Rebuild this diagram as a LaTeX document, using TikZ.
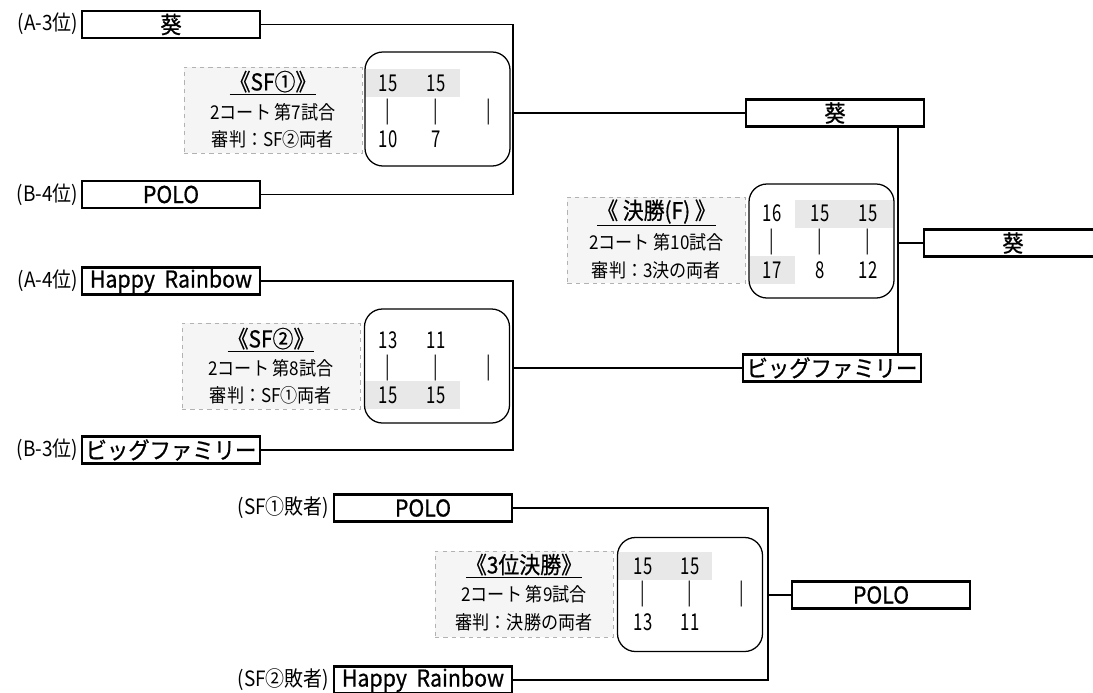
\documentclass[tikz,border=0pt]{standalone}
\usepackage{fontspec}
\setmainfont{Noto Sans CJK JP}
\newfontfamily\teamfont[FakeBold=0.7,FakeStretch=0.92]{Noto Sans CJK JP}
\newfontfamily\infofont[FakeStretch=0.9]{Noto Sans CJK JP}
\newfontfamily\titlefont[FakeBold=0.6,FakeStretch=0.9]{Noto Sans CJK JP}
\newfontfamily\scorefont[FakeStretch=0.72]{Noto Sans CJK JP}

\tikzset{
  team/.style={draw, line width=1.6pt, minimum width=4.45cm, minimum height=0.675cm,
    inner sep=0pt, font=\teamfont\fontsize{16.5}{16.5}\selectfont},
  seed/.style={anchor=east, inner sep=1pt, font=\infofont\fontsize{15}{15}\selectfont},
  infobox/.style={draw=gray!60, dashed, fill=gray!8, minimum width=4.45cm,
    minimum height=2.15cm, inner sep=0pt},
  infotext/.style={inner sep=0pt, font=\infofont\fontsize{13.5}{13.5}\selectfont},
  infotitle/.style={inner sep=0pt, font=\titlefont\fontsize{16.5}{16.5}\selectfont},
  scorebox/.style={draw, line width=0.9pt, rounded corners=0.45cm,
    minimum width=3.625cm, minimum height=2.85cm},
  pts/.style={inner sep=0pt, font=\scorefont\fontsize{16.5}{16.5}\selectfont},
  won/.style={fill=gray!18},
  link/.style={line width=0.8pt}
}

\begin{document}
\begin{tikzpicture}[x=0.025cm, y=-0.025cm]
  \useasboundingbox (0,0) rectangle (1093,692);
  \clip (0,0) rectangle (1093,692);

  % SF1
  \node[seed] (seedA3) at (80,24) {(A-3位)};
  \node[team] (teamA3) at (171,24.5) {葵};
  \node[seed] (seedB4) at (80,194.5) {(B-4位)};
  \node[team] (teamB4) at (171,194.5) {POLO};
  \coordinate (sf1) at (513,113);
  \draw[link] (teamA3.east) -| (sf1);
  \draw[link] (teamB4.east) -| (sf1);
  \node[infobox] (info1) at (273,110) {};
  \node[infotitle] (title1) at (273,83) {\underline{《SF①》}};
  \node[infotext] (court1) at (273,112) {2コート 第7試合};
  \node[infotext] (ref1) at (273,139) {審判：SF②両者};
  \fill[won] (365,69) rectangle (460,97);
  \node[scorebox] (score1) at (437.5,109) {};
  \foreach \x/\t/\b in {388/15/10, 436/15/7, 489//}{
    \node[pts] (top1\x) at (\x,83) {\t};
    \node[pts] (bar1\x) at (\x,112) {|};
    \node[pts] (bot1\x) at (\x,139) {\b};
  }

  % SF2
  \node[seed] (seedA4) at (80,281) {(A-4位)};
  \node[team] (teamA4) at (171,281) {Happy\ \ Rainbow};
  \node[seed] (seedB3) at (80,450) {(B-3位)};
  \node[team] (teamB3) at (171,450) {ビッグファミリー};
  \coordinate (sf2) at (513,368);
  \draw[link] (teamA4.east) -| (sf2);
  \draw[link] (teamB3.east) -| (sf2);
  \node[infobox] (info2) at (271,366) {};
  \node[infotitle] (title2) at (271,340) {\underline{《SF②》}};
  \node[infotext] (court2) at (271,368) {2コート 第8試合};
  \node[infotext] (ref2) at (271,395) {審判：SF①両者};
  \fill[won] (365,381) rectangle (460,409);
  \node[scorebox] (score2) at (437,366) {};
  \foreach \x/\t/\b in {388/13/15, 436/11/15, 489//}{
    \node[pts] (top2\x) at (\x,340) {\t};
    \node[pts] (bar2\x) at (\x,368) {|};
    \node[pts] (bot2\x) at (\x,395) {\b};
  }

  % final
  \node[team] (win1) at (835,113) {葵};
  \node[team] (win2) at (832,368) {ビッグファミリー};
  \draw[link] (sf1) -- (win1.west);
  \draw[link] (sf2) -- (win2.west);
  \coordinate (fin) at (898,243);
  \draw[link] (win1.south -| fin) -- (win2.north -| fin);
  \node[team] (champ) at (1013,243) {葵};
  \draw[link] (fin) -- (champ.west);
  \node[infobox] (info3) at (656.5,240) {};
  \node[infotitle] (title3) at (656.5,213) {\underline{《 決勝(F) 》}};
  \node[infotext] (court3) at (656.5,242) {2コート 第10試合};
  \node[infotext] (ref3) at (656.5,270) {審判：3決の両者};
  \fill[won] (795,200) rectangle (893,228);
  \fill[won] (750,256) rectangle (795,284);
  \node[scorebox] (score3) at (821.5,241) {};
  \foreach \x/\t/\b in {772/16/17, 820/15/8, 868/15/12}{
    \node[pts] (top3\x) at (\x,213) {\t};
    \node[pts] (bar3\x) at (\x,242) {|};
    \node[pts] (bot3\x) at (\x,270) {\b};
  }

  % 3rd place
  \node[seed] (seedL1) at (331,508) {(SF①敗者)};
  \node[team] (teamL1) at (423,508) {POLO};
  \node[seed] (seedL2) at (331,680) {(SF②敗者)};
  \node[team] (teamL2) at (423,680) {Happy\ \ Rainbow};
  \coordinate (third) at (768,595);
  \draw[link] (teamL1.east) -| (third);
  \draw[link] (teamL2.east) -| (third);
  \node[team] (win3) at (881,595) {POLO};
  \draw[link] (third) -- (win3.west);
  \node[infobox] (info4) at (524,594) {};
  \node[infotitle] (title4) at (524,566) {\underline{《3位決勝》}};
  \node[infotext] (court4) at (524,594) {2コート 第9試合};
  \node[infotext] (ref4) at (524,622) {審判：決勝の両者};
  \fill[won] (617,552) rectangle (712,580);
  \node[scorebox] (score4) at (690,594.5) {};
  \foreach \x/\t/\b in {643/15/13, 690/15/11, 742//}{
    \node[pts] (top4\x) at (\x,566) {\t};
    \node[pts] (bar4\x) at (\x,594) {|};
    \node[pts] (bot4\x) at (\x,622) {\b};
  }
\end{tikzpicture}
\end{document}
